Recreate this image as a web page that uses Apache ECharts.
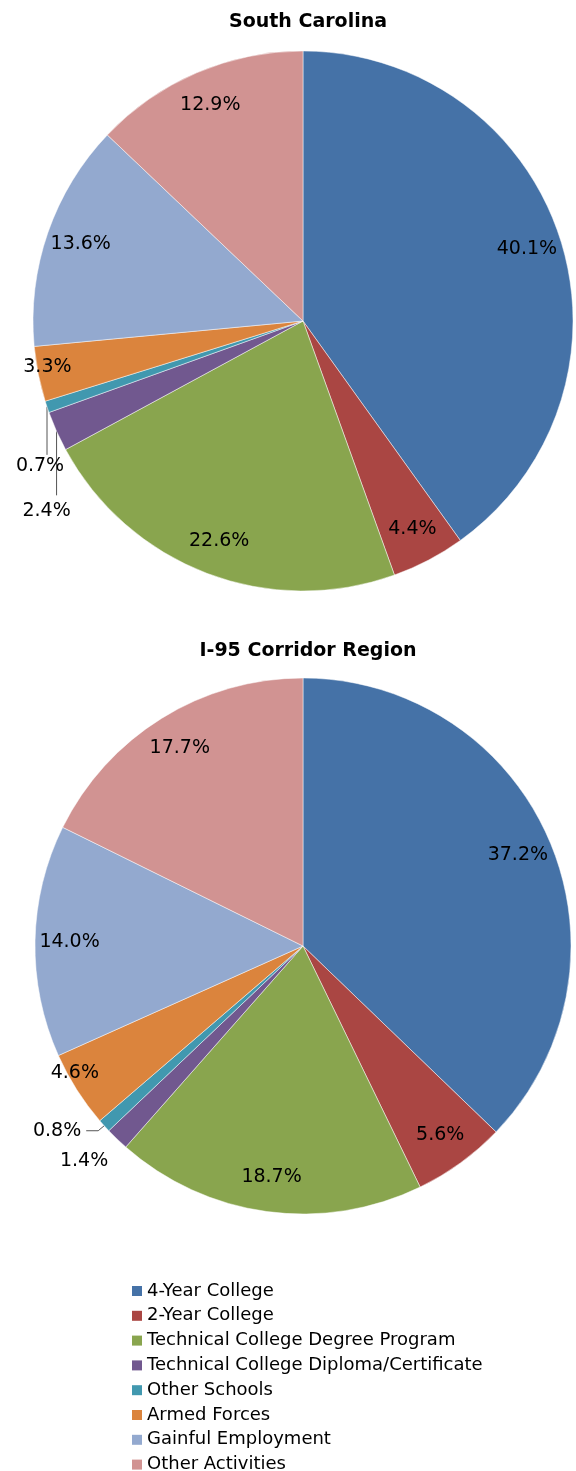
<!DOCTYPE html>
<html>
<head>
<meta charset="utf-8">
<script src="https://cdn.jsdelivr.net/npm/echarts@6/dist/echarts.min.js"></script>
<style>
  html, body { margin: 0; padding: 0; background: #fff; }
  #chart { width: 576px; height: 1471px; }
</style>
</head>
<body>
<div id="chart"></div>
<script>
// 数据
var categories = ['4-Year College', '2-Year College', 'Technical College Degree Program',
  'Technical College Diploma/Certificate', 'Other Schools', 'Armed Forces',
  'Gainful Employment', 'Other Activities']
var scValues = [40.1, 4.4, 22.6, 2.4, 0.7, 3.3, 13.6, 12.9]
var i95Values = [37.2, 5.6, 18.7, 1.4, 0.8, 4.6, 14.0, 17.7]
var titles = ['South Carolina', 'I-95 Corridor Region']

var palette = ['#4572a7', '#aa4643', '#89a54e', '#71588f', '#4198af', '#db843d', '#93a9cf', '#d19392']
var font = 'DejaVu Sans'

// small slices get their label outside, pushed around by labelLayout
var outsideIdx = [3, 4]
// offsets from the slice edge: label dx/dy, align, extra line points
var outsideTweaks = [
  {
    3: { dx: -10, dy: 80, align: 'center', line: [[0, 64]] },
    4: { dx: -7, dy: 59, align: 'center', line: [[0, 48]] }
  },
  {
    3: { dx: -33, dy: 22, align: 'center', line: null },
    4: { dx: -23, dy: 5, align: 'right', line: [[-6, 5], [-18, 5]] }
  }
]
// inside labels that sit closer to the rim
var insideShift = [{ 5: [-25, 0] }, { 5: [-31, 2] }]

var pies = [
  { values: scValues, center: [303, 321], r: 270 },
  { values: i95Values, center: [303, 946], r: 268 }
]

var chart = echarts.init(document.getElementById('chart'))

function mainSeries (p, k) {
  return {
    type: 'pie',
    center: p.center,
    radius: p.r,
    startAngle: 90,
    clockwise: true,
    avoidLabelOverlap: false,
    silent: true,
    itemStyle: { borderColor: 'rgba(255,255,255,0.6)', borderWidth: 0.8 },
    label: { show: false, fontFamily: font, fontSize: 19, color: '#000' },
    labelLine: { show: false, length: 10, length2: 10, lineStyle: { color: '#555', width: 1 } },
    emphasis: { disabled: true },
    data: categories.map(function (c, i) {
      var d = { name: c, value: p.values[i] }
      if (outsideIdx.indexOf(i) >= 0) {
        var t = outsideTweaks[k][i]
        d.label = { show: true, position: 'outside', formatter: p.values[i].toFixed(1) + '%' }
        d.labelLine = { show: !!t.line }
      }
      return d
    }),
    labelLayout: function (params) {
      var t = outsideTweaks[k][params.dataIndex]
      if (!t || !params.labelLinePoints) return {}
      var p0 = params.labelLinePoints[0]
      var out = {
        x: p0[0] + t.dx,
        y: p0[1] + t.dy,
        align: t.align,
        verticalAlign: 'middle'
      }
      if (t.line) {
        var pts = [p0.slice()]
        t.line.forEach(function (o) { pts.push([p0[0] + o[0], p0[1] + o[1]]) })
        if (pts.length < 3) pts.push(pts[pts.length - 1].slice())
        out.labelLinePoints = pts
      }
      return out
    }
  }
}

function labelSeries (p, k) {
  return {
    type: 'pie',
    center: p.center,
    radius: [p.r * 0.72, p.r],
    startAngle: 90,
    clockwise: true,
    silent: true,
    z: 5,
    avoidLabelOverlap: false,
    itemStyle: { color: 'rgba(0,0,0,0)', borderWidth: 0 },
    label: { show: true, position: 'inside', fontFamily: font, fontSize: 19, color: '#000' },
    labelLine: { show: false },
    emphasis: { disabled: true },
    data: categories.map(function (c, i) {
      var d = { name: c, value: p.values[i] }
      d.label = { show: outsideIdx.indexOf(i) < 0, formatter: p.values[i].toFixed(1) + '%' }
      return d
    }),
    labelLayout: function (params) {
      var s = insideShift[k][params.dataIndex]
      return s ? { dx: s[0], dy: s[1] } : {}
    }
  }
}

chart.setOption({
  animation: false,
  color: palette,
  title: [
    {
      text: titles[0], left: 303, top: 8, textAlign: 'center',
      textStyle: { fontFamily: font, fontSize: 19, fontWeight: 'bold', color: '#000' }
    },
    {
      text: titles[1], left: 303, top: 637, textAlign: 'center',
      textStyle: { fontFamily: font, fontSize: 19, fontWeight: 'bold', color: '#000' }
    }
  ],
  legend: {
    orient: 'vertical',
    left: 132,
    top: 1282,
    height: 240,
    padding: 0,
    icon: 'rect',
    itemWidth: 10,
    itemHeight: 10,
    itemGap: 6.8,
    selectedMode: false,
    data: categories,
    itemStyle: { borderWidth: 0 },
    textStyle: { fontFamily: font, fontSize: 18, color: '#000', lineHeight: 17 }
  },
  series: [
    mainSeries(pies[0], 0),
    mainSeries(pies[1], 1),
    labelSeries(pies[0], 0),
    labelSeries(pies[1], 1)
  ]
})
</script>
</body>
</html>
